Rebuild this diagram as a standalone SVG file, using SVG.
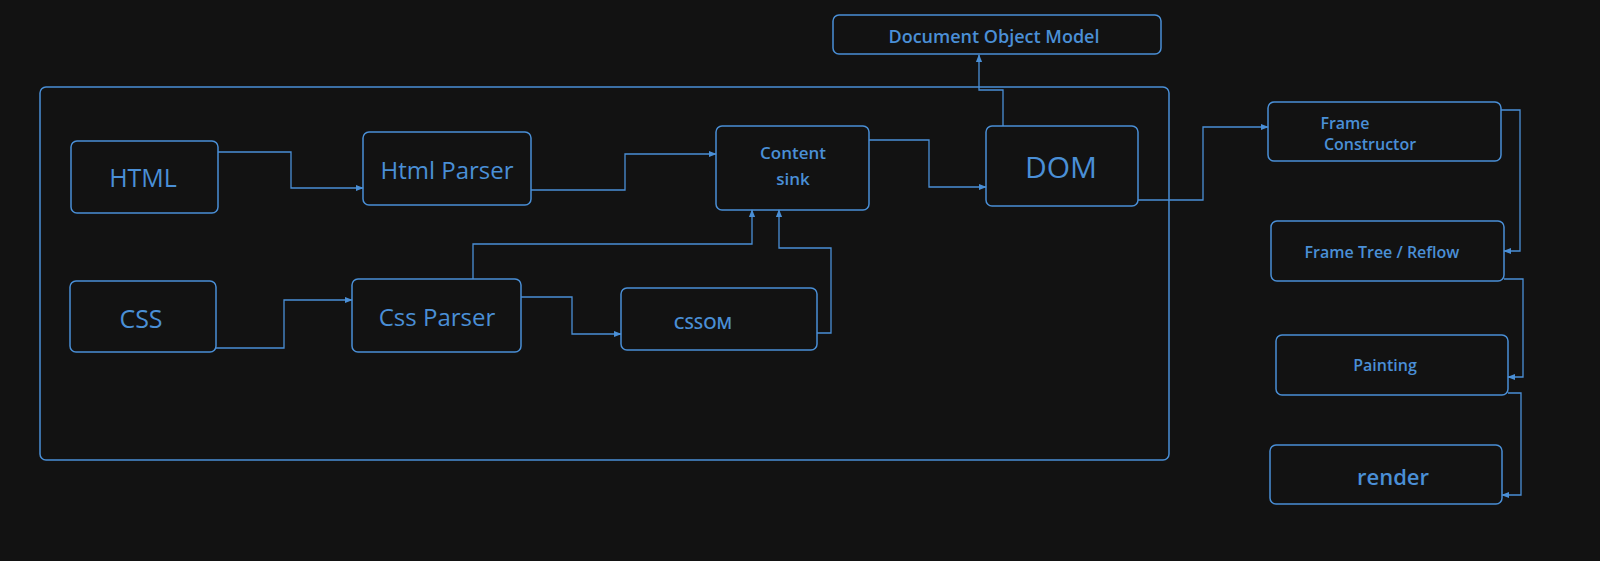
<svg xmlns="http://www.w3.org/2000/svg" width="1600" height="561" viewBox="0 0 1600 561">
<defs>
<marker id="a" viewBox="0 0 10 10" refX="9" refY="5" markerWidth="6" markerHeight="6" orient="auto-start-reverse"><path d="M0,1 L10,5 L0,9 z" fill="#4a8fd6"/></marker>
<style>
.n{fill:none;stroke:#4a8fd6;stroke-width:1.5}
.c{fill:none;stroke:#4a8fd6;stroke-width:1.3;marker-end:url(#a)}
text{fill:#4a8fd6;font-family:"Open Sans","Liberation Sans",sans-serif;text-anchor:middle;dominant-baseline:central}
.s{font-weight:600}
</style>
</defs>
<rect width="1600" height="561" fill="#121212"/>
<g id="container"><rect class="n" x="40" y="87" width="1129" height="373" rx="6"/></g>
<g id="dommodel"><rect class="n" x="833" y="15" width="328" height="39" rx="6"/><text class="s" x="994" y="36" font-size="18">Document Object Model</text></g>
<g id="html"><rect class="n" x="71" y="141" width="147" height="72" rx="6"/><text x="143" y="177" font-size="25">HTML</text></g>
<g id="htmlparser"><rect class="n" x="363" y="132" width="168" height="73" rx="6"/><text x="447" y="169" font-size="24">Html Parser</text></g>
<g id="sink"><rect class="n" x="716" y="126" width="153" height="84" rx="6"/><text class="s" x="793" y="152" font-size="17">Content</text><text class="s" x="793" y="178" font-size="17">sink</text></g>
<g id="dom"><rect class="n" x="986" y="126" width="152" height="80" rx="6"/><text x="1061" y="166" font-size="30">DOM</text></g>
<g id="css"><rect class="n" x="70" y="281" width="146" height="71" rx="6"/><text x="141" y="318" font-size="25">CSS</text></g>
<g id="cssparser"><rect class="n" x="352" y="279" width="169" height="73" rx="6"/><text x="437" y="316" font-size="24">Css Parser</text></g>
<g id="cssom"><rect class="n" x="621" y="288" width="196" height="62" rx="6"/><text class="s" x="703" y="322" font-size="17">CSSOM</text></g>
<g id="frameconstructor"><rect class="n" x="1268" y="102" width="233" height="59" rx="6"/><text class="s" x="1345" y="123" font-size="16">Frame</text><text class="s" x="1370" y="144" font-size="16">Constructor</text></g>
<g id="frametree"><rect class="n" x="1271" y="221" width="233" height="60" rx="6"/><text class="s" x="1382" y="252" font-size="16">Frame Tree / Reflow</text></g>
<g id="painting"><rect class="n" x="1276" y="335" width="232" height="60" rx="6"/><text class="s" x="1385" y="365" font-size="16">Painting</text></g>
<g id="render"><rect class="n" x="1270" y="445" width="232" height="59" rx="6"/><text class="s" x="1393" y="476" font-size="22">render</text></g>
<g id="connectors">
<path class="c" d="M218,152 H291 V188 H363"/>
<path class="c" d="M531,190 H625 V154 H716"/>
<path class="c" d="M869,140 H929 V187 H986"/>
<path class="c" d="M1003,126 V90 H979 V55"/>
<path class="c" d="M1138,200 H1203 V127 H1268"/>
<path class="c" d="M216,348 H284 V300 H352"/>
<path class="c" d="M521,297 H572 V334 H621"/>
<path class="c" d="M473,279 V244 H752 V210"/>
<path class="c" d="M817,333 H831 V248 H779 V210"/>
<path class="c" d="M1501,110 H1520 V251 H1504"/>
<path class="c" d="M1504,279 H1523 V377 H1508"/>
<path class="c" d="M1508,393 H1521 V495 H1502"/>
</g>
</svg>
